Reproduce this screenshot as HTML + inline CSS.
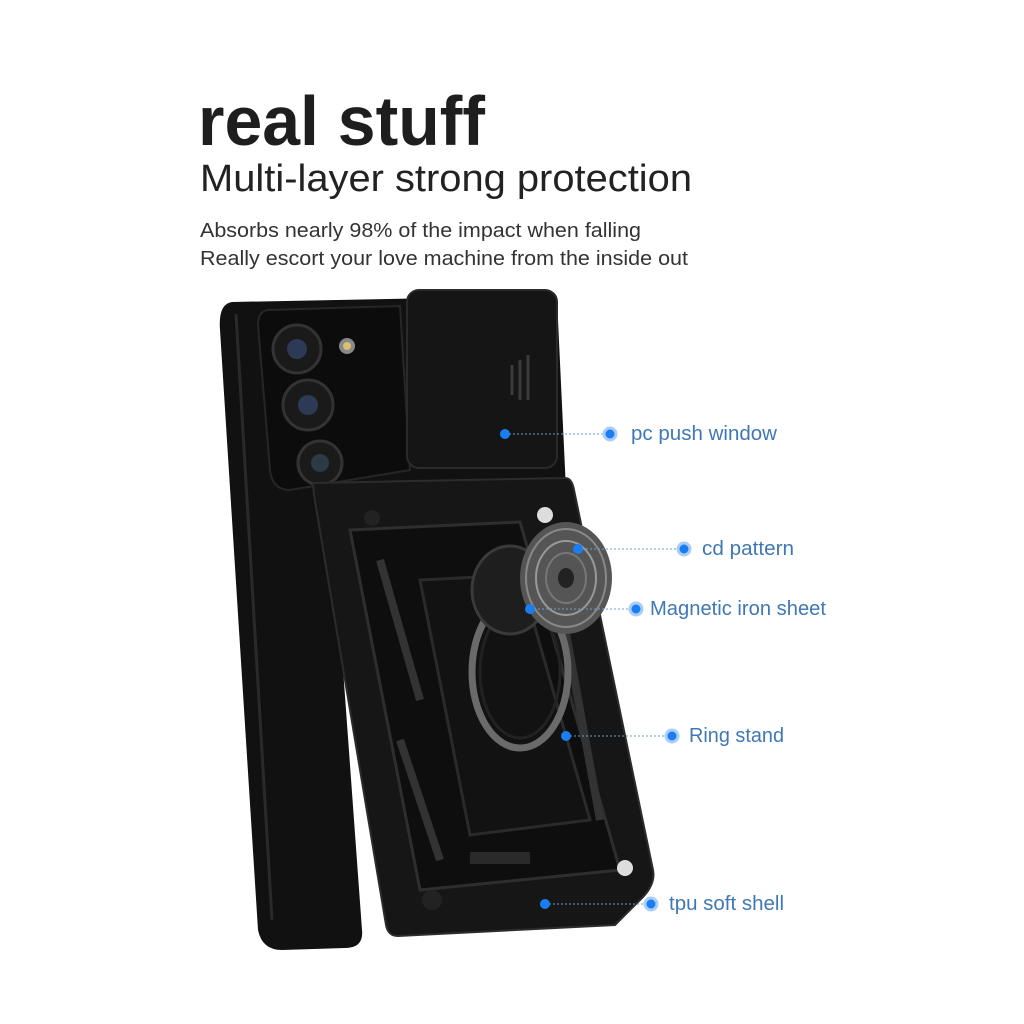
<!DOCTYPE html>
<html><head><meta charset="utf-8"><style>html,body{margin:0;padding:0;background:#fff}svg{display:block}</style></head>
<body>
<svg width="1024" height="1024" viewBox="0 0 1024 1024" xmlns="http://www.w3.org/2000/svg" font-family="Liberation Sans, sans-serif">
<rect width="1024" height="1024" fill="#fff"/>
<text x="198" y="145" font-size="70" font-weight="bold" fill="#1e1e1e" textLength="287" lengthAdjust="spacingAndGlyphs">real stuff</text>
<text x="200" y="191" font-size="38" fill="#222" textLength="492" lengthAdjust="spacingAndGlyphs">Multi-layer strong protection</text>
<text x="200" y="237" font-size="20" fill="#333" textLength="441" lengthAdjust="spacingAndGlyphs">Absorbs nearly 98% of the impact when falling</text>
<text x="200" y="265" font-size="20" fill="#333" textLength="488" lengthAdjust="spacingAndGlyphs">Really escort your love machine from the inside out</text>

<!-- phone body -->
<path d="M232,302 L540,296 Q556,296 558,320 L566,490 L330,490 L362,930 Q364,948 345,948 L282,950 Q262,950 258,930 L220,330 Q218,304 232,302 Z" fill="#111"/>
<path d="M236,314 L272,920" stroke="#2a2a2a" stroke-width="3" fill="none"/>
<!-- camera module -->
<path d="M268,310 L400,306 L410,470 L290,490 Q272,490 270,470 L258,325 Q258,311 268,310Z" fill="#0c0c0c" stroke="#262626" stroke-width="2"/>
<circle cx="297" cy="349" r="24" fill="#1a1a1a" stroke="#333" stroke-width="3"/>
<circle cx="297" cy="349" r="10" fill="#2c3a55"/>
<circle cx="308" cy="405" r="25" fill="#1a1a1a" stroke="#333" stroke-width="3"/>
<circle cx="308" cy="405" r="10" fill="#2c3a55"/>
<circle cx="320" cy="463" r="22" fill="#1a1a1a" stroke="#333" stroke-width="3"/>
<circle cx="320" cy="463" r="9" fill="#2c3a44"/>
<circle cx="347" cy="346" r="8" fill="#888"/><circle cx="347" cy="346" r="4" fill="#d8c070"/>
<!-- slider -->
<rect x="407" y="290" width="150" height="178" rx="12" fill="#151515" stroke="#2a2a2a" stroke-width="2"/>
<path d="M512,365 v30 M520,360 v40 M528,355 v45" stroke="#3a3a3a" stroke-width="3"/>
<!-- front plate -->
<path d="M313,483 L565,478 Q572,478 574,490 L653,870 Q656,885 640,900 L615,925 L398,936 Q388,936 386,925 L314,495 Z" fill="#161616" stroke="#2c2c2c" stroke-width="2"/>
<path d="M350,530 L520,522 L620,870 L420,890 Z" fill="#0e0e0e" stroke="#2e2e2e" stroke-width="3"/>
<path d="M380,560 L420,700 M400,740 L440,860 M560,600 L600,820" stroke="#333" stroke-width="8"/>
<path d="M420,580 L520,575 L590,820 L470,835 Z" fill="#121212" stroke="#2a2a2a" stroke-width="3"/>
<circle cx="372" cy="518" r="8" fill="#222"/>
<circle cx="545" cy="515" r="8" fill="#ddd"/>
<circle cx="625" cy="868" r="8" fill="#ddd"/>
<circle cx="432" cy="900" r="10" fill="#222"/>
<rect x="470" y="852" width="60" height="12" fill="#2a2a2a"/>
<!-- ring stand -->
<ellipse cx="520" cy="672" rx="48" ry="76" fill="none" stroke="#6a6a6a" stroke-width="7"/>
<ellipse cx="520" cy="672" rx="40" ry="66" fill="none" stroke="#222" stroke-width="3"/>
<!-- magnet cylinder and disc -->
<ellipse cx="510" cy="590" rx="38" ry="44" fill="#1e1e1e" stroke="#3a3a3a" stroke-width="3"/>
<ellipse cx="566" cy="578" rx="46" ry="56" fill="#555"/>
<ellipse cx="566" cy="578" rx="40" ry="49" fill="none" stroke="#888" stroke-width="2"/>
<ellipse cx="566" cy="578" rx="30" ry="37" fill="none" stroke="#999" stroke-width="2"/>
<ellipse cx="566" cy="578" rx="20" ry="25" fill="none" stroke="#777" stroke-width="2"/>
<ellipse cx="566" cy="578" rx="8" ry="10" fill="#222"/>

<!-- callouts -->
<g stroke="#6a9fd4" stroke-width="1" stroke-dasharray="2,2">
<line x1="505" y1="434" x2="610" y2="434"/>
<line x1="578" y1="549" x2="684" y2="549"/>
<line x1="530" y1="609" x2="636" y2="609"/>
<line x1="566" y1="736" x2="672" y2="736"/>
<line x1="545" y1="904" x2="651" y2="904"/>
</g>
<g fill="#1a7ef0">
<circle cx="505" cy="434" r="5"/><circle cx="578" cy="549" r="5"/><circle cx="530" cy="609" r="5"/><circle cx="566" cy="736" r="5"/><circle cx="545" cy="904" r="5"/>
</g>
<g fill="#1a7ef0" stroke="#a9cdf5" stroke-width="3">
<circle cx="610" cy="434" r="6"/><circle cx="684" cy="549" r="6"/><circle cx="636" cy="609" r="6"/><circle cx="672" cy="736" r="6"/><circle cx="651" cy="904" r="6"/>
</g>
<g fill="#3f78b5" font-size="20">
<text x="631" y="440" textLength="146" lengthAdjust="spacingAndGlyphs">pc push window</text>
<text x="702" y="555" textLength="92" lengthAdjust="spacingAndGlyphs">cd pattern</text>
<text x="650" y="615" textLength="176" lengthAdjust="spacingAndGlyphs">Magnetic iron sheet</text>
<text x="689" y="742" textLength="95" lengthAdjust="spacingAndGlyphs">Ring stand</text>
<text x="669" y="910" textLength="115" lengthAdjust="spacingAndGlyphs">tpu soft shell</text>
</g>
</svg>
</body></html>
